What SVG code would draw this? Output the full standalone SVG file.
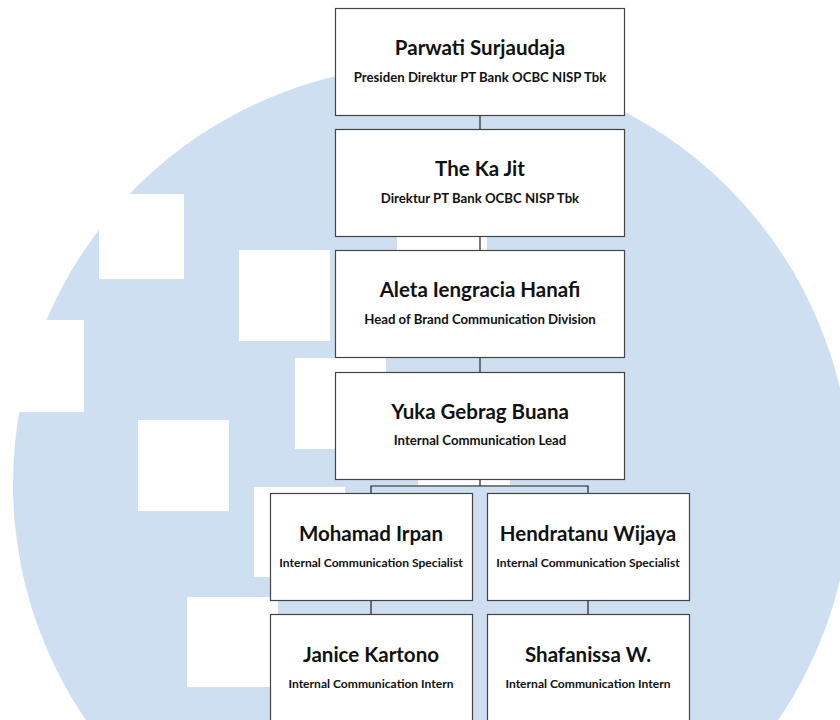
<svg xmlns="http://www.w3.org/2000/svg" width="840" height="720" viewBox="0 0 840 720">
<style>
.bg{fill:#cddff0}
.w{fill:#ffffff}
.box{fill:#ffffff;stroke:#444444;stroke-width:1.2}
.ln{fill:none;stroke:#222222;stroke-width:1.2}
.t{font-family:Lato,"Liberation Sans",sans-serif;font-weight:700;fill:#111111;text-anchor:middle}
.name{font-size:20.5px}
.role{font-size:13.2px}
.role2{font-size:12.1px}
</style>
<rect width="840" height="720" fill="#ffffff"/>
<g id="watermark">
<circle class="bg" cx="432" cy="484" r="419"/>
<rect class="w" x="99" y="194" width="85" height="85"/>
<rect class="w" x="239" y="250" width="91" height="91"/>
<rect class="w" x="0" y="320" width="84" height="92"/>
<rect class="w" x="138" y="420" width="91" height="91"/>
<rect class="w" x="295" y="358" width="91" height="91"/>
<rect class="w" x="254" y="487" width="91" height="90"/>
<rect class="w" x="187" y="597" width="91" height="90"/>
<rect class="w" x="397" y="200" width="90" height="91"/>
<rect class="w" x="418" y="394" width="92" height="91"/>
</g>
<g id="connectors">
<line class="ln" x1="480" y1="115" x2="480" y2="129"/>
<line class="ln" x1="480" y1="236" x2="480" y2="250"/>
<line class="ln" x1="480" y1="357" x2="480" y2="372"/>
<line class="ln" x1="480" y1="479" x2="480" y2="486"/>
<polyline class="ln" points="371,493 371,486 588,486 588,493"/>
<line class="ln" x1="371" y1="600" x2="371" y2="614"/>
<line class="ln" x1="588" y1="600" x2="588" y2="614"/>
</g>
<g id="n1">
<rect class="box" x="335.5" y="8.5" width="289" height="107"/>
<text class="t name" x="480" y="55">Parwati Surjaudaja</text>
<text class="t role" x="480" y="82">Presiden Direktur PT Bank OCBC NISP Tbk</text>
</g>
<g id="n2">
<rect class="box" x="335.5" y="129.5" width="289" height="107"/>
<text class="t name" x="480" y="176">The Ka Jit</text>
<text class="t role" x="480" y="203">Direktur PT Bank OCBC NISP Tbk</text>
</g>
<g id="n3">
<rect class="box" x="335.5" y="250.5" width="289" height="107"/>
<text class="t name" x="480" y="297">Aleta Iengracia Hanafi</text>
<text class="t role" x="480" y="324">Head of Brand Communication Division</text>
</g>
<g id="n4">
<rect class="box" x="335.5" y="372.5" width="289" height="107"/>
<text class="t name" x="480" y="419">Yuka Gebrag Buana</text>
<text class="t role" x="480" y="445">Internal Communication Lead</text>
</g>
<g id="n5">
<rect class="box" x="270.5" y="493.5" width="202" height="107"/>
<text class="t name" x="371" y="541">Mohamad Irpan</text>
<text class="t role2" x="371" y="567">Internal Communication Specialist</text>
</g>
<g id="n6">
<rect class="box" x="487.5" y="493.5" width="202" height="107"/>
<text class="t name" x="588" y="541">Hendratanu Wijaya</text>
<text class="t role2" x="588" y="567">Internal Communication Specialist</text>
</g>
<g id="n7">
<rect class="box" x="270.5" y="614.5" width="202" height="110"/>
<text class="t name" x="371" y="662">Janice Kartono</text>
<text class="t role2" x="371" y="688">Internal Communication Intern</text>
</g>
<g id="n8">
<rect class="box" x="487.5" y="614.5" width="202" height="110"/>
<text class="t name" x="588" y="662">Shafanissa W.</text>
<text class="t role2" x="588" y="688">Internal Communication Intern</text>
</g>
</svg>
